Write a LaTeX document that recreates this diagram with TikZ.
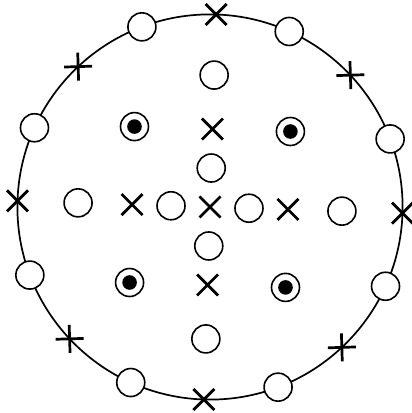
\documentclass[tikz,border=0pt]{standalone}
\begin{document}
\begin{tikzpicture}[x=1pt,y=1pt,
  ringc/.pic={\draw[line width=1.6pt,fill=white] (0,0) circle (14pt);},
  dotc/.pic={\draw[line width=1.6pt,fill=white] (0,0) circle (14pt); \fill (0,0) circle (7.3pt);},
  xmark/.pic={\draw[line width=2.8pt] (-10.5pt,-10.5pt) -- (10.5pt,10.5pt) (-10.5pt,10.5pt) -- (10.5pt,-10.5pt);},
  pmark/.pic={\draw[line width=2.7pt] (-14pt,0pt) -- (14pt,0pt) (0pt,-14pt) -- (0pt,14pt);}
]
\useasboundingbox (0,0) rectangle (412,413);
\fill[white] (0,0) rectangle (412,413);
\begin{scope}[shift={(210,206)}, rotate=-1.8]
  \draw[line width=1.7pt] (0,0) circle (192.6pt);
  \foreach \k in {0,...,15}{
    \pgfmathtruncatemacro\m{mod(\k,4)}
    \pgfmathsetmacro\ang{90-22.5*\k}
    \ifcase\m
      \pic at (\ang:192.6) {xmark};
    \or
      \pic at (\ang:192.6) {ringc};
    \or
      \pic[rotate=1.8] at (\ang:192.6) {pmark};
    \or
      \pic at (\ang:192.6) {ringc};
    \fi
  }
  \foreach \p in {(0,132),(0,39),(0,-39),(0,-132),(-132,0),(-39,0),(39,0),(132,0)}
    \pic at \p {ringc};
  \foreach \p in {(0,78),(0,-78),(-78,0),(78,0),(0,0)}
    \pic at \p {xmark};
  \foreach \p in {(-78,78),(78,78),(-78,-78),(78,-78)}
    \pic at \p {dotc};
\end{scope}
\end{tikzpicture}
\end{document}
